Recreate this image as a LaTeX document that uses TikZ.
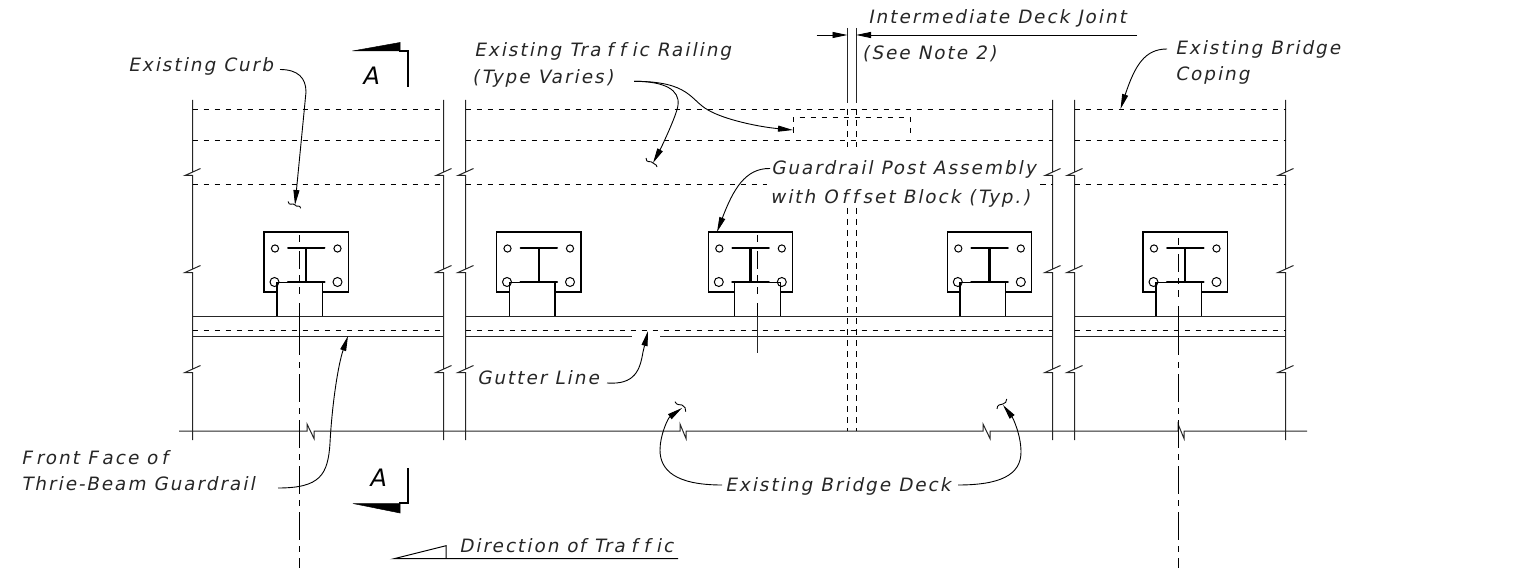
\documentclass[tikz,border=0pt]{standalone}
\usepackage{fontspec}
\usetikzlibrary{arrows.meta}
\newfontfamily\lblfont{DejaVu Sans}[FakeSlant=0.2,LetterSpace=11,Ligatures=NoCommon]
\newfontfamily\secfont{DejaVu Sans}[FakeSlant=0.2]
\newcommand\brk[2]{-- (#1,#2-1) (#1+8,#2-4.5) -- (#1-7.5,#2+2.5) -- (#1,#2+2.5)}
\newcommand\tfc{Tra\kern6pt f\kern6pt f\kern6pt ic}
\tikzset{
  ln/.style={line width=1pt,black!85},
  thinln/.style={line width=0.9pt,black},
  dsh/.style={line width=0.9pt,black,dash pattern=on 5.5pt off 5.5pt},
  ctr/.style={line width=1pt,black,dash pattern=on 6pt off 6pt on 28pt off 6pt},
  lead/.style={line width=0.9pt,black,-{Stealth[length=15pt,width=6pt,inset=0pt]}},
  heavy/.style={line width=2.4pt,black},
  lbl/.style={inner sep=0pt,anchor=base west,text=black!85,font=\lblfont\fontsize{18.4}{19}\selectfont},
  sec/.style={inner sep=0pt,anchor=base west,font=\secfont\fontsize{24}{24}\selectfont},
}
\begin{document}
\begin{tikzpicture}[x=1pt,y=-1pt]
\useasboundingbox (0,0) rectangle (1534,572);
% vertical limits with break marks
\foreach \x in {192.5,443.5,465.5,1052.5,1074.5,1285.5}{
  \draw[ln] (\x,100) \brk{\x}{173} \brk{\x}{270} \brk{\x}{370} -- (\x,440);
  \draw[line width=1.4pt,black!85] (\x,304) -- (\x,336);
}
% hidden horizontal lines
\foreach \a/\b in {192.5/443.5,465.5/1052.5,1074.5/1285.5}{
  \draw[dsh] (\a,109) -- (\b,109);
  \draw[dsh] (\a,140.5) -- (\b,140.5);
  \draw[ln] (\a,316) -- (\b,316);
  \draw[dsh] (\a,330) -- (\b,330);
}
\draw[dsh] (192.5,184) -- (443.5,184);
\draw[dsh] (465.5,184) -- (767,184);
\draw[dsh] (1040,184) -- (1052.5,184);
\draw[dsh] (1074.5,184) -- (1285.5,184);
\draw[ln] (192.5,336) -- (443.5,336);
\draw[ln] (465.5,336) -- (632,336);
\draw[ln] (660,336) -- (1052.5,336);
\draw[ln] (1074.5,336) -- (1285.5,336);
% base line with break symbols
\draw[ln] (179,431) -- (307,431) -- (307,424) -- (314,438.5) -- (314,431)
  -- (680,431) -- (680,424) -- (686,438.5) -- (686,431)
  -- (983,431) -- (983,424) -- (990,438.5) -- (990,431)
  -- (1178,431) -- (1178,424) -- (1184,438.5) -- (1184,431) -- (1307,431);
% centre lines
\draw[line width=1pt] (299.5,316) -- (299.5,355);
\draw[ctr] (299.5,362) -- (299.5,568);
\draw[line width=1pt] (1178.5,316) -- (1178.5,355);
\draw[ctr] (1178.5,362) -- (1178.5,568);
\draw[ln] (757,316) -- (757,353);
% deck joint
\draw[ln] (847.5,28) -- (847.5,103);
\draw[ln] (856,28) -- (856,103);
\foreach \x in {847.5,856}{
  \draw[dsh,dash pattern=on 6pt off 5pt] (\x,109) -- (\x,147);
  \draw[dsh,dash pattern=on 6pt off 5pt] (\x,208) -- (\x,431);
}
\coordinate (jl) at (847.5,35);
\coordinate (jr) at (856,35);
\draw[lead] (816.5,35) -- (jl);
\draw[lead] (1137,35) -- (jr);
% railing outline
\draw[dsh] (793,133) -- (793,117.5) -- (910,117.5) -- (910,133);
% post assemblies: plate left / block left
\foreach \p/\b in {264/277,496.5/509.5,708.3/734.7,947.3/960,1143/1156}{
  \draw[line width=1.1pt] (\p,232) rectangle (\p+84.5,292);
  \draw[line cap=round,line width=2pt] (\p+24,247.5) -- (\p+60.5,247.5);
  \draw[heavy] (\p+42.25,247.5) -- (\p+42.25,282);
  \draw[line width=1.1pt,fill=white] (\b,316) -- (\b,282.5) -- (\b+45.5,282.5) -- (\b+45.5,316);
  \draw[line width=1pt,fill=white] (\p+11,248.5) circle (3.6);
  \draw[line width=1pt,fill=white] (\p+73.5,248.5) circle (3.6);
  \draw[line width=1pt] (\p+10.5,282) circle (4.5);
  \draw[line width=1pt] (\p+73.5,282) circle (4.5);
  \draw[heavy,line cap=round] (\p+24,282) -- (\p+60.5,282);
}
% centre dashes over assemblies
\draw[line width=1pt,dash pattern=on 7pt off 9pt on 18pt off 6pt on 6pt off 6pt] (299.5,235) -- (299.5,316);
\draw[line width=1pt,dash pattern=on 7pt off 9pt on 18pt off 6pt on 6pt off 6pt] (757,235) -- (757,316);
\draw[line width=1pt,dash pattern=on 7pt off 9pt on 18pt off 6pt on 6pt off 6pt] (1178.5,238) -- (1178.5,316);
% section marks
\draw[fill=black,line width=0.5pt] (352.5,51) -- (400,42.5) -- (400,51) -- cycle;
\draw[line width=2.4pt] (399,51) -- (408,51) -- (408,87.5);
\node[sec] (secA) at (362,85) {A};
\draw[fill=black,line width=0.5pt] (353,503.5) -- (400,513) -- (400,503.5) -- cycle;
\draw[line width=2.4pt] (399,503) -- (408,503) -- (408,468);
\node[sec] (secB) at (369,486) {A};
% direction of traffic
\draw[line width=1pt] (446,558.7) -- (446,545.7) -- (394,558.7) -- (678,558.7);
\node[lbl] (dir) at (459,552) {Direction o\kern1.5pt f \tfc};
% labels
\node[lbl] (curb) at (128,72) {Existing Curb};
\node[lbl] (rail1) at (474,57) {Existing \tfc{} Railing};
\node[lbl] (rail2) at (472,84) {(Type Varies)};
\node[lbl] (joint) at (868,24) {Intermediate Deck Joint};
\node[lbl] (note) at (862,60) {(See Note 2)};
\node[lbl] (cop1) at (1175,55) {Existing Bridge};
\node[lbl] (cop2) at (1175,81) {Coping};
\node[lbl] (post1) at (771,175) {Guardrail Post Assembly};
\node[lbl] (post2) at (770,204) {with O\kern4pt f\kern4pt f\kern4pt set Block (Typ.)};
\node[lbl] (gut) at (477,384) {Gutter Line};
\node[lbl] (ff1) at (21,464) {F\kern4pt ront F\kern4pt ace o\kern4pt f};
\node[lbl] (ff2) at (21,490) {Thrie-Beam Guardrail};
\node[lbl] (deck) at (725,491) {Existing Bridge Deck};
% leader ends
\coordinate (curbEnd) at (295,205);
\coordinate (railEndA) at (793,130);
\coordinate (railEndB) at (653,163);
\coordinate (postEnd) at (717,232);
\coordinate (copEnd) at (1120.5,109);
\coordinate (gutEnd) at (648,331);
\coordinate (ffEnd) at (348,336);
\coordinate (deckEndL) at (682,408);
\coordinate (deckEndR) at (1003,405);
% leaders
\draw[lead] (280,69.5) .. controls (298,69.5) and (306,78) .. (306,92) -- (curbEnd);
\draw[lead] (634,81.3) .. controls (690,81.3) and (690,100) .. (708,110) .. controls (725,120) and (760,127) .. (railEndA);
\draw[lead] (634,81.3) .. controls (665,81.3) and (680,90) .. (678,105) .. controls (677,115) and (660,150) .. (railEndB);
\draw[lead] (770,168.5) .. controls (745,168) and (733,190) .. (postEnd);
\draw[lead] (1167,49) .. controls (1145,49) and (1135,65) .. (copEnd);
\draw[lead] (607,383) .. controls (635,385) and (640,370) .. (643,352) -- (gutEnd);
\draw[lead] (278,488) .. controls (320,488) and (328,475) .. (330,443) .. controls (332,405) and (338,365) .. (ffEnd);
\draw[lead] (722,485) .. controls (675,485) and (660,470) .. (660,450) .. controls (660,435) and (668,418) .. (deckEndL);
\draw[lead] (958,485) .. controls (1000,485) and (1021,475) .. (1021,452) .. controls (1021,435) and (1013,418) .. (deckEndR);
% break squiggles on leader ends
\draw[thinln] (288,201.5) .. controls (289,207) and (293,202) .. (295,205) .. controls (297,208) and (300,204) .. (300.7,208.3);
\draw[thinln] (646,158) .. controls (646,164) and (651,160) .. (653,163) .. controls (655,166) and (656,163) .. (657,167);
\draw[thinln] (675,401.7) .. controls (677,406) and (680,404) .. (682,405) .. controls (685,406) and (686,409) .. (685.7,411.7);
\draw[thinln] (997,409) .. controls (997,405) and (1000,404) .. (1003,404) .. controls (1006,404) and (1006,401) .. (1006.7,399);
\end{tikzpicture}
\end{document}
